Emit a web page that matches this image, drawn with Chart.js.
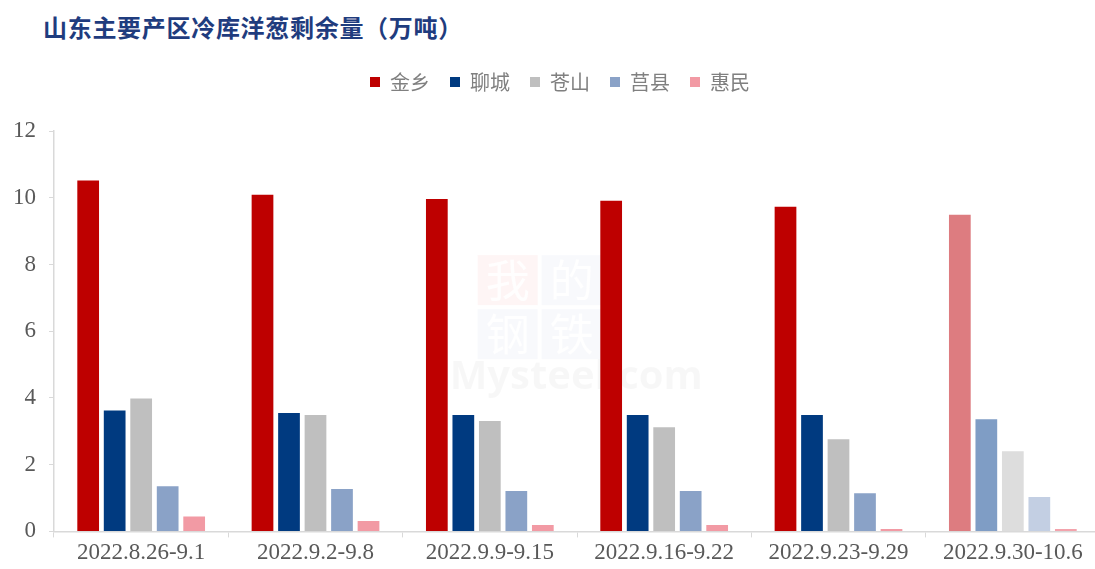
<!DOCTYPE html>
<html>
<head>
<meta charset="utf-8">
<script src="https://cdn.jsdelivr.net/npm/chart.js@4.4.1/dist/chart.umd.min.js"></script>
<style>
  html, body { margin:0; padding:0; background:#fff; overflow:hidden; width:1095px; height:569px; }
  #title { position:absolute; left:43px; top:9px; font-family:"Noto Sans CJK SC"; font-weight:bold; font-size:24px; color:#1F3C7E; letter-spacing:0.7px; white-space:nowrap; }
  #wrap { position:absolute; left:0; top:0; width:1100px; height:569px; }
</style>
</head>
<body>
<div id="title">山东主要产区冷库洋葱剩余量（万吨）</div>
<div id="wrap"><canvas id="c"></canvas></div>
<script>
const categories = ["2022.8.26-9.1", "2022.9.2-9.8", "2022.9.9-9.15", "2022.9.16-9.22", "2022.9.23-9.29", "2022.9.30-10.6"];
const seriesNames = ["金乡", "聊城", "苍山", "莒县", "惠民"];
const jinxiang = [10.52, 10.09, 9.96, 9.91, 9.73, 9.49];
const liaocheng = [3.62, 3.55, 3.49, 3.49, 3.49, 3.36];
const cangshan = [3.98, 3.49, 3.31, 3.12, 2.76, 2.40];
const juxian = [1.35, 1.27, 1.21, 1.21, 1.14, 1.03];
const huimin = [0.45, 0.31, 0.19, 0.19, 0.07, 0.07];
const yTicks = [0, 2, 4, 6, 8, 10, 12];

const baseColors = ["#BE0000", "#003A80", "#BFBFBF", "#8AA2C7", "#F29AA4"];
const fadedColors = ["#DD7C80", "#7F9DC5", "#DDDDDD", "#C3CFE3", "#F3A3AC"];
const values = [jinxiang, liaocheng, cangshan, juxian, huimin];

const datasets = seriesNames.map((name, i) => ({
  label: name,
  data: values[i],
  backgroundColor: values[i].map((v, j) => j === categories.length - 1 ? fadedColors[i] : baseColors[i]),
  borderWidth: 0,
  categoryPercentage: 0.76,
  barPercentage: 0.82
}));

const watermark = {
  id: 'watermark',
  beforeDatasetsDraw(chart) {
    const {ctx, chartArea: a} = chart;
    const x0 = a.left + (a.right - a.left) * 0.405;
    const y0 = a.top + (a.bottom - a.top) * 0.31;
    ctx.save();
    ctx.fillStyle = 'rgba(230,60,60,0.05)';
    ctx.fillRect(x0, y0, 60, 50);
    ctx.fillStyle = 'rgba(60,90,170,0.035)';
    ctx.fillRect(x0 + 64, y0, 60, 50);
    ctx.fillRect(x0, y0 + 54, 60, 50);
    ctx.fillRect(x0 + 64, y0 + 54, 60, 50);
    ctx.font = '44px "Noto Sans CJK SC"';
    ctx.textAlign = 'center'; ctx.textBaseline = 'middle';
    ctx.fillStyle = 'rgba(255,255,255,0.9)';
    ctx.fillText('我', x0 + 30, y0 + 25);
    ctx.fillText('的', x0 + 94, y0 + 25);
    ctx.fillText('钢', x0 + 30, y0 + 79);
    ctx.fillText('铁', x0 + 94, y0 + 79);
    ctx.font = 'bold 40px "Open Sans"';
    ctx.textAlign = 'left';
    ctx.fillStyle = 'rgba(0,0,0,0.03)';
    ctx.fillText('Mysteel.com', x0 - 28, y0 + 122);
    ctx.restore();
  }
};

const legendSpace = {
  id: 'legendSpace',
  afterInit(chart) {
    const lg = chart.legend;
    const orig = lg.fit;
    lg.fit = function () { orig.call(this); this.height += 29; };
  },
  afterLayout(chart) {
    chart.legend.left += 10;
    chart.legend.right += 10;
  }
};

new Chart(document.getElementById('c'), {
  type: 'bar',
  data: { labels: categories, datasets },
  plugins: [watermark, legendSpace],
  options: {
    responsive: true,
    maintainAspectRatio: false,
    animation: false,
    layout: { padding: { left: 0, right: 0, top: 52, bottom: 0 } },
    plugins: {
      tooltip: { enabled: false },
      legend: {
        position: 'top',
        labels: {
          boxWidth: 10, boxHeight: 10, padding: 20,
          color: '#808080',
          font: { family: '"Noto Sans CJK SC"', size: 20 },
          generateLabels(chart) {
            return chart.data.datasets.map((d, i) => ({
              text: d.label, fillStyle: baseColors[i], strokeStyle: baseColors[i],
              lineWidth: 0, hidden: false, datasetIndex: i, fontColor: '#808080'
            }));
          }
        }
      }
    },
    scales: {
      x: {
        afterFit(scale) { scale.paddingLeft = 0; scale.paddingRight = 0; },
        grid: { display: true, drawOnChartArea: false, offset: true, color: '#D9D9D9', tickLength: 6, lineWidth: 1 },
        border: { display: true, color: '#D9D9D9', width: 1.5 },
        ticks: { color: '#595959', font: { family: '"Liberation Serif"', size: 23 }, padding: 2, maxRotation: 0, autoSkip: false }
      },
      y: {
        min: 0, max: 12,
        afterBuildTicks(scale) { scale.ticks = yTicks.map(v => ({ value: v })); },
        grid: { display: true, drawOnChartArea: false, color: '#D9D9D9', tickLength: 5 },
        border: { display: true, color: '#D9D9D9', width: 1.5 },
        ticks: { color: '#595959', font: { family: '"Liberation Serif"', size: 23 }, padding: 13 }
      }
    }
  }
});
</script>
</body>
</html>
